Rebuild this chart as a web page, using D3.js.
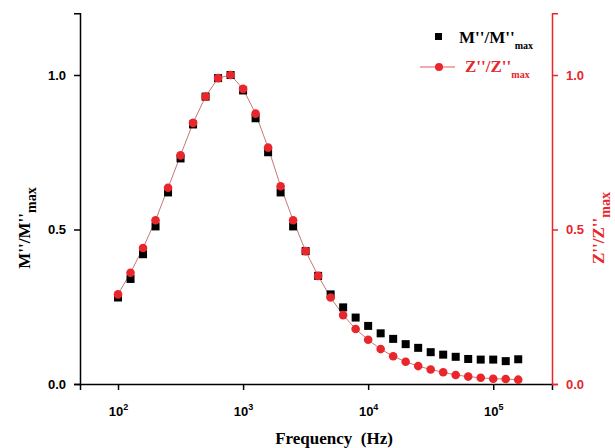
<!DOCTYPE html>
<html>
<head>
<meta charset='utf-8'>
<style>
body { margin: 0; background: #fff; }
text { font-family: 'Liberation Sans', Arial, sans-serif; font-weight: bold; }
.title { font-family: 'Liberation Serif', 'Times New Roman', serif; white-space: pre; }
</style>
<script src='https://d3js.org/d3.v7.min.js'></script>
</head>
<body>
<svg id='chart' width='615' height='448'></svg>
<script>
// frequencies: 10 points per decade, 10^2 .. 10^5.2
var logFreq = [2.0, 2.1, 2.2, 2.3, 2.4, 2.5, 2.6, 2.7, 2.8, 2.9, 3.0, 3.1, 3.2, 3.3, 3.4, 3.5,
  3.6, 3.7, 3.8, 3.9, 4.0, 4.1, 4.2, 4.3, 4.4, 4.5, 4.6, 4.7, 4.8, 4.9, 5.0, 5.1, 5.2];
var mValues = [0.28, 0.34, 0.42, 0.51, 0.62, 0.73, 0.84, 0.93, 0.99, 1.0, 0.95, 0.86, 0.75,
  0.62, 0.51, 0.43, 0.35, 0.29, 0.248, 0.215, 0.188, 0.164, 0.146, 0.129, 0.117, 0.103,
  0.095, 0.088, 0.081, 0.079, 0.079, 0.074, 0.08];
var zValues = [0.29, 0.36, 0.44, 0.53, 0.635, 0.74, 0.845, 0.93, 0.99, 1.0, 0.955, 0.875,
  0.765, 0.64, 0.53, 0.43, 0.35, 0.28, 0.223, 0.178, 0.143, 0.113, 0.09, 0.072, 0.058,
  0.047, 0.038, 0.029, 0.024, 0.02, 0.017, 0.016, 0.014];
var xTicks = [2, 3, 4, 5];
var yTicks = [0, 0.5, 1.0];

var svg = d3.select('#chart');
var left = 80, right = 552, top = 13, bottom = 384;
var red = '#e8262b';

var x = d3.scaleLinear().domain([1.696, 5.47]).range([left, right]);
var y = d3.scaleLinear().domain([0, 1.2]).range([bottom, bottom - 1.2 * 309]);

var data = logFreq.map(function(f, i) { return {f: f, m: mValues[i], z: zValues[i]}; });

// bottom axis
var xAxis = svg.append('g').attr('transform', 'translate(0,' + bottom + ')')
  .call(d3.axisBottom(x).tickValues(xTicks).tickSize(6).tickFormat(''));
xAxis.select('.domain').attr('stroke-width', 1.5);
xAxis.selectAll('.tick line').attr('stroke-width', 1.5);
xAxis.selectAll('.tick').append('text')
  .attr('y', 32).attr('fill', '#000').attr('font-size', 13).attr('text-anchor', 'middle')
  .html(function(d) { return '10<tspan dy="-6" font-size="9">' + d + '</tspan>'; });

// left axis
var yAxis = svg.append('g').attr('transform', 'translate(' + left + ',0)')
  .call(d3.axisLeft(y).tickValues(yTicks).tickSize(6).tickFormat(d3.format('.1f')));
yAxis.select('.domain').attr('stroke-width', 1.5);
yAxis.selectAll('.tick line').attr('stroke-width', 1.5);
yAxis.selectAll('.tick text').attr('font-size', 13).attr('x', -14);

// right axis
var rAxis = svg.append('g').attr('transform', 'translate(' + right + ',0)')
  .call(d3.axisRight(y).tickValues(yTicks).tickSize(6).tickFormat(d3.format('.1f')));
rAxis.selectAll('path, line').attr('stroke', red).attr('stroke-width', 1.5);
rAxis.selectAll('.tick text').attr('fill', red).attr('font-size', 13).attr('x', 14);

// line through Z points
svg.append('path').datum(data)
  .attr('fill', 'none').attr('stroke', '#b5574f').attr('stroke-width', 0.8)
  .attr('d', d3.line().x(function(d) { return x(d.f); }).y(function(d) { return y(d.z); }));

svg.selectAll('.sq').data(data).enter().append('rect')
  .attr('x', function(d) { return x(d.f) - 4; })
  .attr('y', function(d) { return y(d.m) - 4; })
  .attr('width', 8).attr('height', 8).attr('fill', '#000');

svg.selectAll('.dot').data(data).enter().append('circle')
  .attr('cx', function(d) { return x(d.f); })
  .attr('cy', function(d) { return y(d.z); })
  .attr('r', 4.3).attr('fill', red);

// legend
svg.append('rect').attr('x', 435).attr('y', 33).attr('width', 7).attr('height', 7).attr('fill', '#000');
svg.append('text').attr('class', 'title').attr('x', 459).attr('y', 43).attr('font-size', 17)
  .html('M\'\'/M\'\'<tspan dy="6" font-size="10">max</tspan>');
svg.append('line').attr('x1', 420).attr('x2', 455).attr('y1', 67).attr('y2', 67)
  .attr('stroke', red).attr('stroke-width', 0.8);
svg.append('circle').attr('cx', 439).attr('cy', 67).attr('r', 4).attr('fill', red);
svg.append('text').attr('class', 'title').attr('x', 465).attr('y', 72).attr('font-size', 17)
  .attr('fill', red).html('Z\'\'/Z\'\'<tspan dy="6" font-size="10">max</tspan>');

// axis titles
svg.append('text').attr('class', 'title').attr('x', 334).attr('y', 444)
  .attr('text-anchor', 'middle').attr('font-size', 17).text('Frequency  (Hz)');
svg.append('text').attr('class', 'title')
  .attr('transform', 'translate(30,' + 228 + ') rotate(-90)')
  .attr('text-anchor', 'middle').attr('font-size', 17)
  .html('M\'\'/M\'\'<tspan dy="6" font-size="14">max</tspan>');
svg.append('text').attr('class', 'title')
  .attr('transform', 'translate(604,' + 228 + ') rotate(-90)')
  .attr('text-anchor', 'middle').attr('font-size', 17).attr('fill', red)
  .html('Z\'\'/Z\'\'<tspan dy="6" font-size="14">max</tspan>');
</script>
</body>
</html>
